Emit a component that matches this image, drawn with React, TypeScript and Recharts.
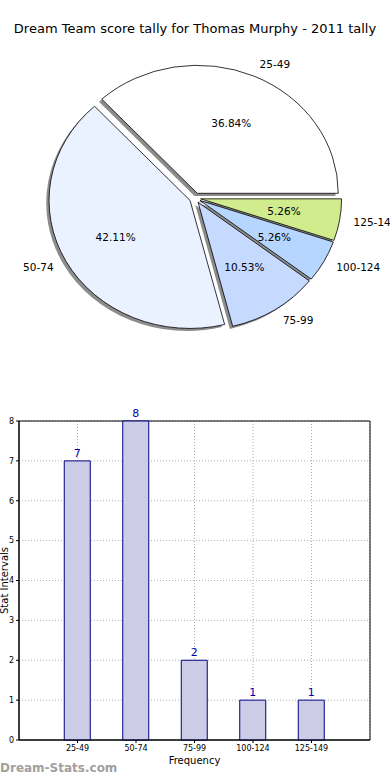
import {
  PieChart,
  Pie,
  BarChart,
  Bar,
  XAxis,
  YAxis,
  CartesianGrid,
  ReferenceArea,
  LabelList,
  Label,
} from "recharts";

const intervals = ["25-49", "50-74", "75-99", "100-124", "125-149"];
const counts = [7, 8, 2, 1, 1];
const sliceColors = ["#ffffff", "#ebf2ff", "#c6d9ff", "#b6d6ff", "#d0ec8c"];
const yTicks = [0, 1, 2, 3, 4, 5, 6, 7, 8];

const FONT = "'DejaVu Sans', Verdana, sans-serif";
const RX = 141;
const RY = 128;
const EXPLODE = 0.04;
const RAD = Math.PI / 180;

const pieData = intervals.map((name, i) => ({
  name,
  value: counts[i],
  fill: sliceColors[i],
}));

const barData = intervals.map((name, i) => ({ pos: i + 1, name, value: counts[i] }));

// matplotlib style elliptical, exploded wedge
function wedgePath(props: any, dx = 0, dy = 0) {
  const { cx, cy, startAngle, endAngle } = props;
  const mid = (startAngle + endAngle) / 2;
  const x0 = cx + EXPLODE * RX * Math.cos(mid * RAD) + dx;
  const y0 = cy - EXPLODE * RY * Math.sin(mid * RAD) + dy;
  const sx = x0 + RX * Math.cos(startAngle * RAD);
  const sy = y0 - RY * Math.sin(startAngle * RAD);
  const ex = x0 + RX * Math.cos(endAngle * RAD);
  const ey = y0 - RY * Math.sin(endAngle * RAD);
  const large = endAngle - startAngle > 180 ? 1 : 0;
  return `M${x0},${y0} L${sx},${sy} A${RX},${RY} 0 ${large} 0 ${ex},${ey} Z`;
}

const ShadowWedge = (props: any) => (
  <path d={wedgePath(props, -2.8, 2.6)} fill="#8c8c8c" stroke="none" />
);

const Wedge = (props: any) => (
  <path d={wedgePath(props)} fill={props.fill} stroke="#000" strokeWidth={0.8} />
);

const renderPieLabel = (props: any) => {
  const { cx, cy, midAngle, percent, name } = props;
  const c = Math.cos(midAngle * RAD);
  const s = Math.sin(midAngle * RAD);
  const x0 = cx + EXPLODE * RX * c;
  const y0 = cy - EXPLODE * RY * s;
  return (
    <g>
      <text
        x={x0 + 1.1 * RX * c}
        y={y0 - 1.1 * RY * s}
        textAnchor={c > 0 ? "start" : "end"}
        dominantBaseline="central"
        fontFamily={FONT}
        fontSize={10.5}
        fill="#000"
      >
        {name}
      </text>
      <text
        x={x0 + 0.6 * RX * c}
        y={y0 - 0.6 * RY * s}
        textAnchor="middle"
        dominantBaseline="central"
        fontFamily={FONT}
        fontSize={10.5}
        fill="#000"
      >
        {(percent * 100).toFixed(2)}%
      </text>
    </g>
  );
};

export default function App() {
  return (
    <div style={{ position: "absolute", left: 0, top: 0, width: 390, height: 780, background: "#fff" }}>
      <div
        style={{
          position: "absolute",
          top: 21,
          left: 0,
          width: 390,
          textAlign: "center",
          fontFamily: FONT,
          fontSize: 13,
          color: "#000",
        }}
      >
        Dream Team score tally for Thomas Murphy - 2011 tally
      </div>
      <div style={{ position: "absolute", top: 0, left: 0 }}>
        <PieChart width={390} height={380} margin={{ top: 0, right: 0, bottom: 0, left: 0 }}>
          <Pie
            data={pieData}
            dataKey="value"
            nameKey="name"
            cx={195}
            cy={198}
            outerRadius={RX}
            startAngle={0}
            endAngle={360}
            shape={ShadowWedge}
            label={false}
            labelLine={false}
            isAnimationActive={false}
          />
          <Pie
            data={pieData}
            dataKey="value"
            nameKey="name"
            cx={195}
            cy={198}
            outerRadius={RX}
            startAngle={0}
            endAngle={360}
            shape={Wedge}
            label={renderPieLabel}
            labelLine={false}
            isAnimationActive={false}
          />
        </PieChart>
      </div>
      <div style={{ position: "absolute", top: 395, left: 0 }}>
        <BarChart
          width={390}
          height={385}
          data={barData}
          margin={{ top: 26, right: 20, left: 0, bottom: 0 }}
        >
          <XAxis
            dataKey="pos"
            type="number"
            domain={[0, 6]}
            ticks={[1, 2, 3, 4, 5]}
            tickFormatter={(v: number) => intervals[v - 1]}
            height={40}
            tick={{ fontSize: 8, fill: "#000", fontFamily: FONT }}
            tickSize={3}
            axisLine={{ stroke: "#000" }}
            tickLine={{ stroke: "#000" }}
          >
            <Label
              value="Frequency"
              position="insideBottom"
              offset={16}
              style={{ fontSize: 10, fill: "#000", fontFamily: FONT }}
            />
          </XAxis>
          <YAxis
            type="number"
            domain={[0, 8]}
            ticks={yTicks}
            width={19}
            tick={{ fontSize: 8, fill: "#000", fontFamily: FONT }}
            tickSize={3}
            axisLine={{ stroke: "#000" }}
            tickLine={{ stroke: "#000" }}
          >
            <Label
              content={(p: any) => {
                const vb = p.viewBox || { y: 26, height: 319 };
                const y = vb.y + vb.height / 2;
                return (
                  <text
                    x={4}
                    y={y}
                    transform={`rotate(-90 4 ${y})`}
                    textAnchor="middle"
                    dominantBaseline="central"
                    fontFamily={FONT}
                    fontSize={10}
                    fill="#000"
                  >
                    Stat Intervals
                  </text>
                );
              }}
            />
          </YAxis>
          <Bar
            dataKey="value"
            barSize={26}
            fill="#cccce6"
            stroke="#000080"
            strokeWidth={1}
            isAnimationActive={false}
          >
            <LabelList
              dataKey="value"
              position="top"
              offset={4}
              style={{ fontSize: 11, fill: "#0000aa", fontFamily: FONT }}
            />
          </Bar>
          <CartesianGrid stroke="#b0b0b0" strokeDasharray="1 2" />
          <ReferenceArea x1={0} x2={6} y1={0} y2={8} fill="none" stroke="#000" strokeWidth={1} />
        </BarChart>
      </div>
      <div
        style={{
          position: "absolute",
          top: 761,
          left: 0,
          fontFamily: FONT,
          fontSize: 12,
          fontWeight: "bold",
          color: "#a0a0a0",
        }}
      >
        Dream-Stats.com
      </div>
    </div>
  );
}
